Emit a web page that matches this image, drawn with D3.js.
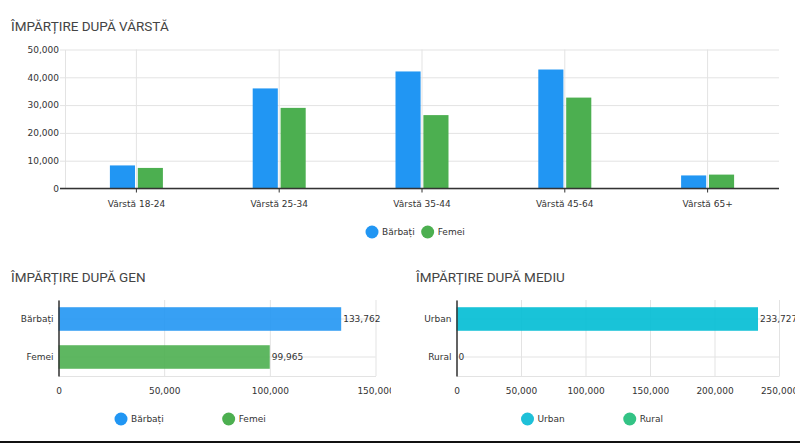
<!DOCTYPE html>
<html>
<head>
<meta charset="utf-8">
<script src="https://cdn.jsdelivr.net/npm/d3@7"></script>
<style>
  body { margin: 0; background: #fff; }
  svg { display: block; }
  .title { font-family: Roboto, "Open Sans", sans-serif; font-size: 13.5px; fill: #444; }
  .lbl { font-family: "DejaVu Sans", Verdana, sans-serif; font-size: 9px; fill: #333; }
</style>
</head>
<body>
<div id="chart"></div>
<script>
// age split data
var ageGroups = ["Vârstă 18-24", "Vârstă 25-34", "Vârstă 35-44", "Vârstă 45-64", "Vârstă 65+"];
var ageSeries = ["Bărbați", "Femei"];
var menByAge = [8300, 36000, 42100, 42800, 4700];
var womenByAge = [7400, 29000, 26400, 32700, 5000];
var ageTicks = [0, 10000, 20000, 30000, 40000, 50000];

// gender split data
var genderLabels = ["Bărbați", "Femei"];
var genderValues = [133762, 99965];
var genderTicks = [0, 50000, 100000, 150000];

// area split data
var areaLabels = ["Urban", "Rural"];
var areaValues = [233727, 0];
var areaTicks = [0, 50000, 100000, 150000, 200000, 250000];

var fmt = d3.format(",");
var gridColor = "#e3e3e3";
var axisColor = "#333";

var svg = d3.select("#chart").append("svg")
    .attr("width", 800)
    .attr("height", 443);

// draw a legend with circle markers
function drawLegend(g, items, colors, startX, y, gap) {
    var x = startX;
    items.forEach(function (name, i) {
        g.append("circle")
            .attr("cx", x).attr("cy", y).attr("r", 6.5)
            .style("fill", colors[i]);
        var t = g.append("text")
            .attr("class", "lbl")
            .attr("x", x + 10).attr("y", y)
            .attr("dy", "0.35em")
            .text(name);
        x += 10 + t.node().getComputedTextLength() + gap;
    });
}

//----- top chart: grouped columns by age
function drawAgeChart() {
    var colors = ["#2196f3", "#4caf50"];
    var g = svg.append("g");

    g.append("text").attr("class", "title")
        .attr("x", 11).attr("y", 31)
        .text("ÎMPĂRȚIRE DUPĂ VÂRSTĂ");

    var x0 = d3.scaleBand().domain(ageGroups).range([65, 779]);
    var x1 = d3.scaleBand().domain(ageSeries).range([-26.5, 26.5]).paddingInner(0.1);
    var y = d3.scaleLinear().domain([0, 50000]).range([188.5, 49.5]);

    // horizontal grid + y labels
    g.append("g")
        .attr("transform", "translate(65,0)")
        .call(d3.axisLeft(y).tickValues(ageTicks).tickSize(-714).tickSizeOuter(0).tickFormat(fmt).tickPadding(6))
        .call(function (a) {
            a.select(".domain").attr("stroke", gridColor);
            a.selectAll(".tick line").attr("stroke", gridColor).attr("x1", -5);
            a.selectAll(".tick text").attr("class", "lbl").attr("font-family", null).attr("font-size", null);
        });

    // vertical grid at category centres
    g.append("g").selectAll("line")
        .data(ageGroups).enter().append("line")
        .attr("x1", function (d) { return x0(d) + x0.bandwidth() / 2; })
        .attr("x2", function (d) { return x0(d) + x0.bandwidth() / 2; })
        .attr("y1", y(50000)).attr("y2", y(0))
        .attr("stroke", gridColor);

    var groups = g.append("g").selectAll("g")
        .data(ageGroups).enter().append("g")
        .attr("transform", function (d) { return "translate(" + (x0(d) + x0.bandwidth() / 2) + ",0)"; });

    groups.selectAll("rect")
        .data(function (d, i) {
            return [{ s: ageSeries[0], v: menByAge[i] }, { s: ageSeries[1], v: womenByAge[i] }];
        })
        .enter().append("rect")
        .attr("x", function (d) { return x1(d.s); })
        .attr("width", x1.bandwidth())
        .attr("y", function (d) { return y(d.v); })
        .attr("height", function (d) { return y(0) - y(d.v); })
        .style("fill", function (d, i) { return colors[i]; });

    // baseline axis with category labels
    g.append("g")
        .attr("transform", "translate(0," + y(0) + ")")
        .call(d3.axisBottom(x0).tickSize(4).tickSizeOuter(0).tickPadding(8))
        .call(function (a) {
            a.select(".domain").attr("stroke", axisColor).attr("stroke-width", 1.3).attr("d", "M60,0H779");
            a.selectAll(".tick line").attr("stroke", axisColor);
            a.selectAll(".tick text").attr("class", "lbl").attr("font-family", null).attr("font-size", null);
        });

    drawLegend(g, ageSeries, colors, 372, 232, 13);
}

//----- horizontal single-series bar chart
function drawHBar(opts) {
    var g = svg.append("g");
    var clipId = "clip" + opts.id;
    svg.append("clipPath").attr("id", clipId)
        .append("rect").attr("x", opts.clipX0).attr("y", 250).attr("width", opts.clipX1 - opts.clipX0).attr("height", 190);
    var body = g.append("g").attr("clip-path", "url(#" + clipId + ")");

    g.append("text").attr("class", "title")
        .attr("x", opts.titleX).attr("y", 282)
        .text(opts.title);

    var x = d3.scaleLinear().domain([0, opts.max]).range([opts.left, opts.right]);
    var y = d3.scaleBand().domain(opts.labels).range([300, 376]);

    // vertical grid + x labels
    body.append("g")
        .attr("transform", "translate(0,376)")
        .call(d3.axisBottom(x).tickValues(opts.ticks).tickSize(-76).tickSizeOuter(0).tickFormat(fmt).tickPadding(12))
        .call(function (a) {
            a.select(".domain").attr("stroke", gridColor);
            a.selectAll(".tick line").attr("stroke", gridColor);
            a.selectAll(".tick text").attr("class", "lbl").attr("font-family", null).attr("font-size", null);
        });

    // horizontal grid at category centres
    body.append("g").selectAll("line")
        .data(opts.labels).enter().append("line")
        .attr("x1", x(0)).attr("x2", x(opts.max))
        .attr("y1", function (d) { return y(d) + y.bandwidth() / 2; })
        .attr("y2", function (d) { return y(d) + y.bandwidth() / 2; })
        .attr("stroke", gridColor);

    var barH = y.bandwidth() * 0.62;
    body.append("g").selectAll("rect")
        .data(opts.values).enter().append("rect")
        .attr("x", x(0))
        .attr("y", function (d, i) { return y(opts.labels[i]) + (y.bandwidth() - barH) / 2; })
        .attr("width", function (d) { return x(d) - x(0); })
        .attr("height", barH)
        .style("fill", function (d, i) { return opts.colors[i]; })
        .style("opacity", 0.9);

    body.append("g").selectAll("text")
        .data(opts.values).enter().append("text")
        .attr("class", "lbl")
        .attr("x", function (d) { return x(d) + 2; })
        .attr("y", function (d, i) { return y(opts.labels[i]) + y.bandwidth() / 2; })
        .attr("dy", "0.35em")
        .text(function (d) { return fmt(d); });

    // category axis
    g.append("g")
        .attr("transform", "translate(" + x(0) + ",0)")
        .call(d3.axisLeft(y).tickSize(0).tickPadding(5))
        .call(function (a) {
            a.select(".domain").attr("stroke", axisColor).attr("stroke-width", 1.5);
            a.selectAll(".tick text").attr("class", "lbl").attr("font-family", null).attr("font-size", null);
        });

    drawLegend(g, opts.labels, opts.legendColors, opts.legendX, 419, opts.legendGap);
}

drawAgeChart();

drawHBar({
    id: "gen", title: "ÎMPĂRȚIRE DUPĂ GEN", titleX: 11,
    labels: genderLabels, values: genderValues, ticks: genderTicks, max: 150000,
    left: 58.5, right: 375.5, clipX0: 0, clipX1: 391,
    colors: ["#2196f3", "#4caf50"], legendColors: ["#2196f3", "#4caf50"],
    legendX: 121, legendGap: 65
});

drawHBar({
    id: "med", title: "ÎMPĂRȚIRE DUPĂ MEDIU", titleX: 416,
    labels: areaLabels, values: areaValues, ticks: areaTicks, max: 250000,
    left: 456.5, right: 779, clipX0: 400, clipX1: 795,
    colors: ["#00bcd4", "#2ec27e"], legendColors: ["#1ec0d8", "#33c385"],
    legendX: 527.5, legendGap: 65
});

// dark strip along the bottom edge
svg.append("rect").attr("x", 0).attr("y", 441).attr("width", 800).attr("height", 2).style("fill", "#111");
</script>
</body>
</html>
